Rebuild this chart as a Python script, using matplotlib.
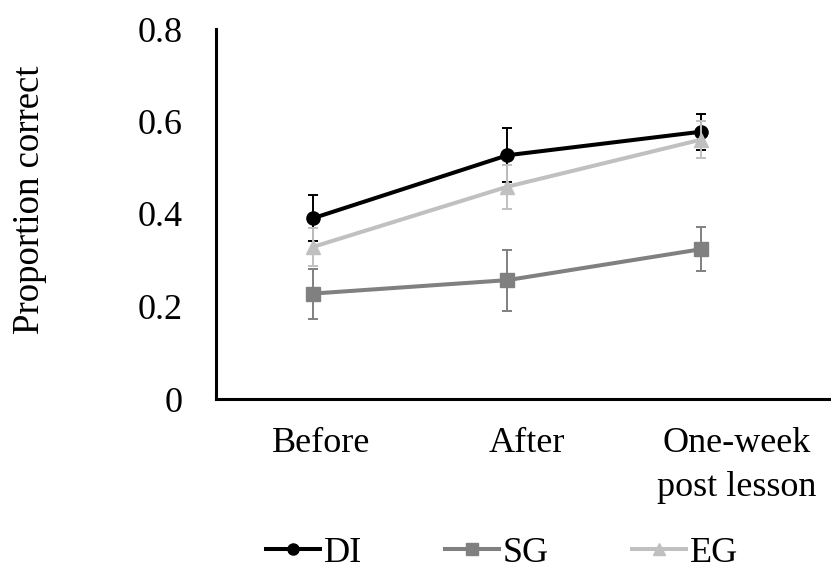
import numpy as np
import matplotlib
matplotlib.use("Agg")
import matplotlib.pyplot as plt
from matplotlib.lines import Line2D

categories = ["Before", "After", "One-week\npost lesson"]
series_names = ["DI", "SG", "EG"]
di_mean = [0.391, 0.527, 0.578]
di_err = [0.050, 0.058, 0.039]
sg_mean = [0.228, 0.257, 0.324]
sg_err = [0.054, 0.066, 0.048]
eg_mean = [0.329, 0.459, 0.561]
eg_err = [0.041, 0.048, 0.040]
yticks = [0, 0.2, 0.4, 0.6, 0.8]
ytick_labels = ["0", "0.2", "0.4", "0.6", "0.8"]

plt.rcParams["font.family"] = ["Liberation Serif", "DejaVu Serif"]

W, H = 831, 569
fig = plt.figure(figsize=(W / 100, H / 100), dpi=100)
ax = fig.add_axes([216 / W, 1 - 399 / H, 1 - 216 / W + 0.01, (399 - 29) / H])

x = np.arange(len(categories))
colors = ["#000000", "#808080", "#C0C0C0"]
markers = ["o", "s", "^"]
means = [di_mean, sg_mean, eg_mean]
errs = [di_err, sg_err, eg_err]
msizes = [9.5, 9.5, 10.5]

for i, (m, e, c, mk, ms) in enumerate(zip(means, errs, colors, markers, msizes)):
    ax.errorbar(x, m, yerr=e, color=c, ecolor=c, elinewidth=1.4, capsize=3.8,
                capthick=1.4, lw=2.9, marker=mk, markersize=ms, zorder=3 + i)

ax.set_xlim(-0.501, 2.71)
ax.set_ylim(0, 0.8)
ax.set_yticks(yticks)
ax.set_yticklabels(ytick_labels, fontsize=26)
label_pos = [0.042, 1.102, 2.183]
ax.set_xticks(label_pos)
ax.set_xticklabels(categories, fontsize=26, linespacing=1.45)
ax.tick_params(axis="both", length=0)
ax.tick_params(axis="y", pad=24)
ax.tick_params(axis="x", pad=20)

for s in ["top", "right"]:
    ax.spines[s].set_visible(False)
for s in ["left", "bottom"]:
    ax.spines[s].set_linewidth(2.2)
    ax.spines[s].set_color("black")

fig.text(30 / W, 1 - 200 / H, "Proportion correct", rotation=90, fontsize=26.5,
         ha="center", va="center")

handles = [Line2D([], [], color=c, lw=2.9, marker=mk, markersize=8)
           for c, mk in zip(colors, markers)]
fig.legend(handles, series_names, loc="center", bbox_to_anchor=(502 / W, 1 - 553 / H),
           ncol=3, frameon=False, fontsize=26, handlelength=1.5, handletextpad=0.1,
           columnspacing=2.3, borderpad=0)

fig.savefig("out.png", dpi=100)
